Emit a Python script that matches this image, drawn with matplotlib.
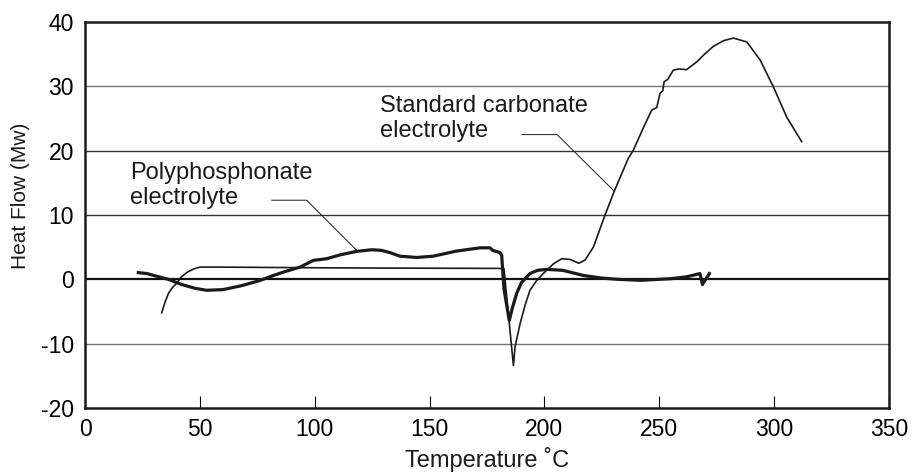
import matplotlib
matplotlib.use('Agg')
import matplotlib.pyplot as plt
import numpy as np

plt.rcParams['font.family'] = ['Liberation Sans', 'DejaVu Sans']
plt.rcParams['axes.unicode_minus'] = False

# standard carbonate electrolyte (thin line)
std_T = [33.4, 34.8, 36.3, 38.0, 39.9, 42.0, 44.5, 47.2, 50.0, 60, 80, 100, 130, 160, 180, 182.4,
         186.5, 187.2, 189.4, 191.6, 193.7, 196.6, 199.5, 203.9, 207.5, 211.1, 215.0, 217.7,
         221.3, 226.4, 230.4, 236.5, 238.6, 243.0, 246.7, 248.9, 250.3, 251.5, 252.1, 253.7,
         256.1, 258.3, 261.9, 266.3, 270.0, 273.5, 278.0, 282.3, 288.1, 293.9, 299.7, 305.5, 312.0]
std_hf = [-5.2, -3.6, -2.2, -1.3, -0.6, 0.4, 1.1, 1.6, 1.9, 1.9, 1.85, 1.8, 1.75, 1.72, 1.7, 1.65,
          -13.4, -10.5, -6.9, -4.0, -1.7, -0.2, 0.9, 2.4, 3.2, 3.1, 2.5, 3.0,
          5.0, 10.0, 13.7, 18.8, 20.0, 23.5, 26.3, 26.7, 28.9, 29.3, 30.7, 31.1,
          32.5, 32.7, 32.6, 33.8, 35.1, 36.2, 37.1, 37.5, 36.9, 34.1, 29.9, 25.2, 21.4]

# polyphosphonate electrolyte (thick line)
poly_T = [23.2, 27, 31, 36.3, 42, 48, 52.9, 60, 68, 76, 82, 87, 93.6, 99.4, 105.2, 111, 118.3,
          124.8, 129.1, 132.8, 137.1, 144.4, 151.6, 161.8, 172, 176.3, 177.5, 180.7, 181.4, 182.4,
          184.7, 186.0, 187.9, 190.0, 193.7, 197.0, 201.0, 208, 217, 225, 232, 242, 255, 262,
          267.7, 268.8, 271.8]
poly_hf = [1.04, 0.9, 0.5, 0.0, -0.8, -1.4, -1.7, -1.6, -1.0, -0.2, 0.6, 1.2, 1.9, 2.95, 3.2, 3.8, 4.35,
           4.6, 4.5, 4.15, 3.6, 3.4, 3.6, 4.4, 4.9, 4.9, 4.5, 4.15, 3.7, -1.5,
           -6.4, -4.5, -2.2, -0.5, 0.9, 1.4, 1.55, 1.4, 0.6, 0.2, 0.0, -0.15, 0.1, 0.4,
           0.9, -0.8, 0.9]

xticks = [0, 50, 100, 150, 200, 250, 300, 350]
yticks = [-20, -10, 0, 10, 20, 30, 40]

fig = plt.figure(figsize=(9.13, 4.74), dpi=100)
ax = fig.add_axes([0.0931, 0.1392, 0.8806, 0.8144])

# horizontal grid lines
for yv in yticks[1:-1]:
    if yv == 0:
        ax.axhline(yv, color='#111111', lw=1.6, zorder=1)
    elif yv in (10, 20):
        ax.axhline(yv, color='#333333', lw=1.0, zorder=1)
    else:
        ax.axhline(yv, color='#777777', lw=1.0, zorder=1)

ax.plot(std_T, std_hf, color='#1a1a1a', lw=1.2, zorder=3)
ax.plot(poly_T, poly_hf, color='#1a1a1a', lw=2.3, zorder=3)

# labels with leader lines
ax.text(19.5, 14.6, 'Polyphosphonate\nelectrolyte', fontsize=17, va='center', ha='left',
        linespacing=1.15, color='#1a1a1a')
ax.plot([81.3, 96.5, 118.3], [12.3, 12.3, 4.5], color='#1a1a1a', lw=0.7)
ax.text(128.4, 25.0, 'Standard carbonate\nelectrolyte', fontsize=17, va='center', ha='left',
        linespacing=1.15, color='#1a1a1a')
ax.plot([190.2, 205.5, 230.4], [22.5, 22.5, 13.7], color='#1a1a1a', lw=0.7)

ax.set_xlim(0, 350)
ax.set_ylim(-20, 40)
ax.set_xticks(xticks)
ax.set_yticks(yticks)
ax.tick_params(axis='x', direction='in', length=9, width=0.8, labelsize=16.5, pad=7)
ax.tick_params(axis='y', length=0, labelsize=16.5, pad=8)
for s in ax.spines.values():
    s.set_linewidth(1.8)
    s.set_color('#1a1a1a')

fig.text(487 / 913, 1.5 / 474, 'Temperature ˚C', fontsize=17, ha='center', va='bottom',
         color='#1a1a1a')
fig.text(20 / 913, 1 - 196 / 474, 'Heat Flow (Mw)', fontsize=15, rotation=90, ha='center',
         va='center', color='#1a1a1a')

plt.savefig('out.png', dpi=100)
